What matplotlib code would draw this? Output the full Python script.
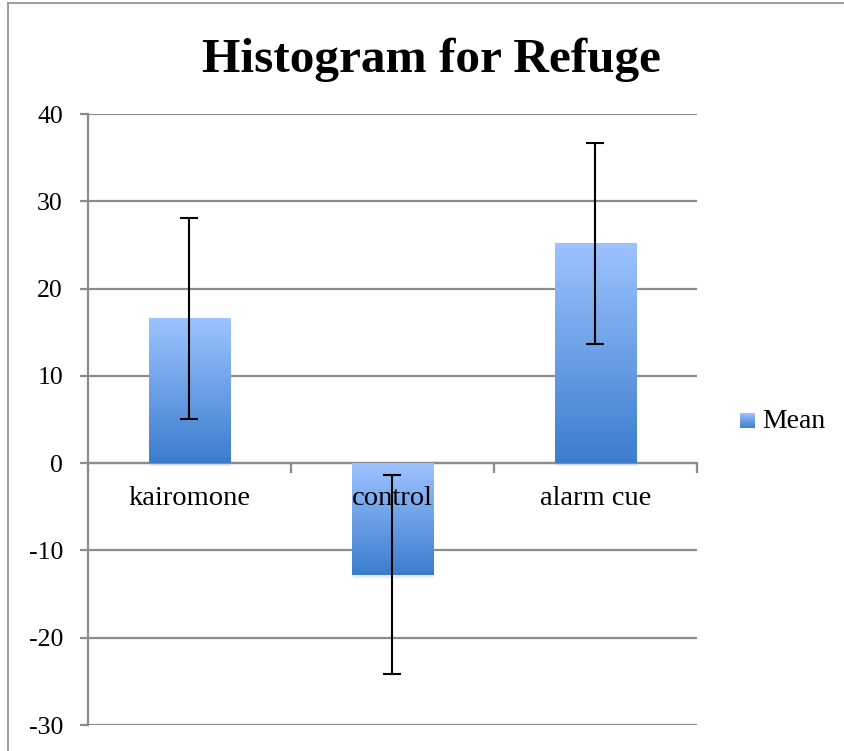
import numpy as np
import matplotlib
matplotlib.use("Agg")
import matplotlib.pyplot as plt
from matplotlib.colors import LinearSegmentedColormap
from matplotlib.patches import Rectangle
from matplotlib.lines import Line2D

categories = ["kairomone", "control", "alarm cue"]
means = [16.6, -12.8, 25.2]
errors = [11.5, 11.4, 11.5]
yticks = [-30, -20, -10, 0, 10, 20, 30, 40]
title = "Histogram for Refuge"
legend_label = "Mean"

FONT = "Liberation Serif"
plt.rcParams["font.family"] = [FONT, "DejaVu Serif"]

W, H = 845, 751
fig = plt.figure(figsize=(W / 100, H / 100), dpi=100)
ax = fig.add_axes([88 / W, 26 / H, 609 / W, 611 / H])

light = "#9dc3ff"
dark = "#3b7dcd"
cmap = LinearSegmentedColormap.from_list("g", [dark, light])
grad = np.linspace(0, 1, 256).reshape(-1, 1)

x = np.arange(len(categories))
bars = ax.bar(x, means, width=0.4, color="none", edgecolor="none", zorder=3)
for b in bars:
    x0, w = b.get_x(), b.get_width()
    y0, h = b.get_y(), b.get_height()
    lo, hi = min(y0, y0 + h), max(y0, y0 + h)
    sh = Rectangle((x0 + 0.006, lo - 0.35), w, hi - lo, facecolor="#000000",
                   alpha=0.08, edgecolor="none", zorder=2.5)
    ax.add_patch(sh)
    ax.imshow(grad, extent=[x0, x0 + w, lo, hi], origin="lower",
              aspect="auto", cmap=cmap, zorder=3, interpolation="bilinear")

for xi, lab in zip(x, categories):
    ax.annotate(lab, (xi, 0), xytext=(0, -25.5), textcoords="offset points",
                ha="center", va="center", fontsize=20.5, zorder=4, color="black")

ax.errorbar(x, means, yerr=errors, fmt="none", ecolor="black", elinewidth=1.5,
            capsize=6.5, capthick=1.5, zorder=5)

ax.set_xlim(-0.5, len(categories) - 0.5)
ax.set_ylim(-30, 40)
ax.set_yticks(yticks)
ax.set_yticklabels([str(v) for v in yticks], fontsize=18.5)
ax.yaxis.grid(True, color="#8c8c8c", linewidth=1.6, zorder=0)
ax.set_axisbelow(True)
ax.tick_params(axis="y", length=6, width=1.6, color="#8c8c8c", pad=12)

for s in ["top", "right"]:
    ax.spines[s].set_visible(False)
ax.spines["left"].set_color("#8c8c8c")
ax.spines["left"].set_linewidth(1.6)
ax.spines["bottom"].set_position(("data", 0))
ax.spines["bottom"].set_color("#8c8c8c")
ax.spines["bottom"].set_linewidth(1.6)
ax.set_xticks(np.arange(len(categories) + 1) - 0.5)
ax.set_xticklabels([])
ax.tick_params(axis="x", length=7, width=1.6, color="#8c8c8c", direction="out")

fig.text(431.5 / W, 1 - 72 / H, title, ha="center", va="baseline",
         fontsize=35.5, fontweight="bold")

lx0, ly0 = 740 / W, 1 - 428 / H
lax = fig.add_axes([lx0, ly0, 15 / W, 15 / H])
lax.imshow(grad, extent=[0, 1, 0, 1], origin="lower", aspect="auto", cmap=cmap)
lax.axis("off")
fig.text(762 / W, 1 - 421 / H, legend_label, ha="left", va="center", fontsize=20)

fig.add_artist(Line2D([8 / W, 1.0], [1 - 3 / H, 1 - 3 / H], color="#8c8c8c",
                      linewidth=1.2, transform=fig.transFigure))
fig.add_artist(Line2D([8 / W, 8 / W], [0, 1 - 3 / H], color="#8c8c8c",
                      linewidth=1.2, transform=fig.transFigure))

fig.savefig("out.png", dpi=100)
